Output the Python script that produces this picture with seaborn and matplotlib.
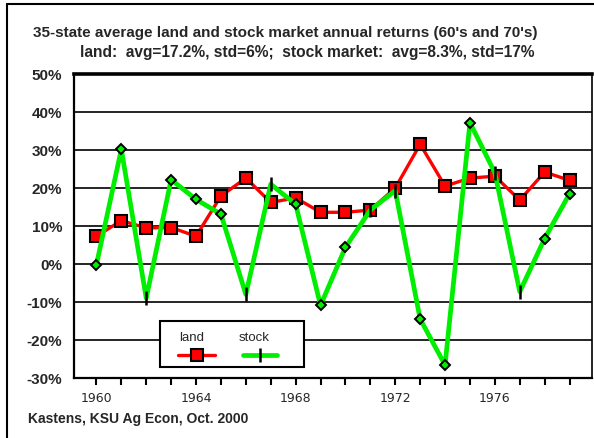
import matplotlib
matplotlib.use('Agg')
import matplotlib.pyplot as plt
import matplotlib.lines as mlines
import matplotlib.patches as mpatches
import seaborn as sns
import pandas as pd

# Data (annual returns, %)
years = list(range(1960, 1980))
land = [7.3, 11.4, 9.5, 9.6, 7.3, 17.9, 22.6, 16.2, 17.4, 13.6,
        13.6, 14.2, 20.0, 31.5, 20.5, 22.6, 23.1, 16.8, 24.2, 22.0]
stock = [-0.2, 30.2, -9.0, 22.2, 17.0, 13.1, -8.0, 21.0, 15.7, -10.9,
         4.4, 14.2, 19.3, -14.5, -26.6, 37.2, 24.0, -7.3, 6.7, 18.5]
# points of the stock series drawn as diamonds (rest get the "|" marker)
stock_diamond_years = [1960, 1961, 1963, 1964, 1965, 1968, 1969, 1970,
                       1973, 1974, 1975, 1978, 1979]
yticks = [-30, -20, -10, 0, 10, 20, 30, 40, 50]
xtick_labels = [1960, 1964, 1968, 1972, 1976]

df = pd.DataFrame({'year': years, 'land': land, 'stock': stock})
dia = df[df['year'].isin(stock_diamond_years)]
bar = df[~df['year'].isin(stock_diamond_years)]

sns.set_style('white')
plt.rcParams['font.family'] = ['Liberation Sans', 'DejaVu Sans']

fig = plt.figure(figsize=(5.94, 4.39), dpi=100)
ax = fig.add_axes([0.1246, 0.1367, 0.8720, 0.6925])

RED = '#ff0000'
GREEN = '#00ee00'

# grid lines
for y in yticks[1:-1]:
    ax.axhline(y, color='black', lw=1.2, zorder=0)

# land
sns.lineplot(data=df, x='year', y='land', ax=ax, color=RED, lw=2.4,
             marker='s', markersize=8.5, markerfacecolor=RED,
             markeredgecolor='black', markeredgewidth=1.5, zorder=3)
# stock
sns.lineplot(data=df, x='year', y='stock', ax=ax, color=GREEN, lw=3.4, zorder=4)
ax.plot(dia['year'], dia['stock'], ls='none', marker='D', markersize=5.5,
        markerfacecolor=GREEN, markeredgecolor='black', markeredgewidth=1.4, zorder=5)
ax.plot(bar['year'], bar['stock'], ls='none', marker='|', markersize=10,
        markeredgecolor='black', markeredgewidth=1.8, zorder=5)

ax.set_xlim(1959.1, 1979.9)
ax.set_ylim(-30, 50)
ax.set_yticks(yticks)
ax.set_yticklabels([f'{v}%' for v in yticks], fontsize=11, fontweight='bold')
ax.set_xticks(years)
ax.set_xticklabels([str(y) if y in xtick_labels else '' for y in years],
                   fontsize=9, family='DejaVu Sans')
ax.tick_params(axis='y', length=0, pad=8.5)
ax.tick_params(axis='x', length=5, width=1.5, direction='out', pad=4.5,
               color='black', bottom=True)
ax.set_xlabel('')
ax.set_ylabel('')

for side, lw in [('top', 2.6), ('left', 1.6), ('right', 1.2), ('bottom', 1.6)]:
    ax.spines[side].set_visible(True)
    ax.spines[side].set_color('black')
    ax.spines[side].set_linewidth(lw)

# legend box, labels above the line samples
ax.add_patch(mpatches.Rectangle((0.166, 0.036), 0.278, 0.152, transform=ax.transAxes,
                                facecolor='white', edgecolor='black', lw=1.5, zorder=6))
ax.add_line(mlines.Line2D([0.201, 0.272], [0.075, 0.075], transform=ax.transAxes,
                          color=RED, lw=2.4, zorder=7))
ax.plot([0.2365], [0.075], transform=ax.transAxes, marker='s', markersize=8.5,
        markerfacecolor=RED, markeredgecolor='black', markeredgewidth=1.5, zorder=8)
ax.add_line(mlines.Line2D([0.326, 0.392], [0.075, 0.075], transform=ax.transAxes,
                          color=GREEN, lw=3.4, zorder=7))
ax.plot([0.359], [0.075], transform=ax.transAxes, marker='|', markersize=10,
        markeredgecolor='black', markeredgewidth=1.8, zorder=8)
ax.text(0.228, 0.135, 'land', transform=ax.transAxes, ha='center', va='center',
        fontsize=9.5, zorder=8)
ax.text(0.347, 0.135, 'stock', transform=ax.transAxes, ha='center', va='center',
        fontsize=9.5, zorder=8)

fig.text(285.5 / 594, 1 - 33 / 439,
         "35-state average land and stock market annual returns (60's and 70's)",
         ha='center', va='center', fontsize=11, fontweight='bold')
fig.text(307 / 594, 1 - 52 / 439,
         "land:  avg=17.2%, std=6%;  stock market:  avg=8.3%, std=17%",
         ha='center', va='center', fontsize=11.2, fontweight='bold')
fig.text(28 / 594, 1 - 419 / 439, 'Kastens, KSU Ag Econ, Oct. 2000',
         ha='left', va='center', fontsize=10, fontweight='bold')

# outer frame (left and top edges visible)
fig.add_artist(mlines.Line2D([7 / 594, 7 / 594], [0, 1 - 5 / 439],
                             transform=fig.transFigure, color='black', lw=1.5))
fig.add_artist(mlines.Line2D([7 / 594, 1], [1 - 5 / 439, 1 - 5 / 439],
                             transform=fig.transFigure, color='black', lw=1.5))

fig.savefig('out.png', dpi=100)
